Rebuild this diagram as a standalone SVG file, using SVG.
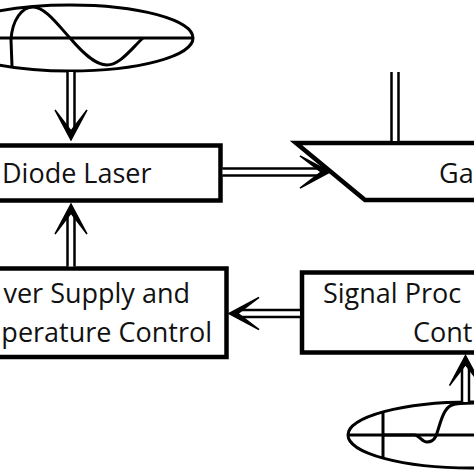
<svg xmlns="http://www.w3.org/2000/svg" width="474" height="474" viewBox="0 0 474 474">
  <style>
    .box { fill: #ffffff; stroke: #000000; stroke-width: 4.5; }
    .ell { fill: #ffffff; stroke: #000000; stroke-width: 3; }
    .ln { fill: none; stroke: #000000; stroke-width: 3; stroke-linecap: butt; stroke-linejoin: round; }
    .lbl { font-family: "Open Sans", "Noto Sans", "Liberation Sans", sans-serif; font-size: 27px; fill: #111111; }
    .dlo { fill: none; stroke: #000000; stroke-width: 9.5; }
    .dli { fill: none; stroke: #ffffff; stroke-width: 4.5; }
    .ah { fill: #000000; stroke: #000000; stroke-width: 1.5; stroke-linejoin: miter; }
  </style>
  <defs>
    <path id="ah" class="ah" d="M0,0 L-30,-16 L-9,0 L-30,16 Z"/>
  </defs>
  <rect x="0" y="0" width="474" height="474" fill="#ffffff"/>

  <g id="signal-top">
    <ellipse class="ell" cx="70" cy="38" rx="123" ry="33"/>
    <line class="ln" x1="-5" y1="38" x2="193" y2="38"/>
    <path class="ln" d="M12,66 L11,40 C12,20 22,7 33,7 C45,7 58,25 70,38 C82,52 95,65 107,65 C120,65 132,48 143,38"/>
  </g>

  <g id="diode-laser">
    <rect class="box" x="-10" y="145.5" width="230.5" height="55"/>
    <text class="lbl" x="2" y="183">Diode Laser</text>
  </g>

  <g id="gas-cell">
    <polygon points="296,143 480,143 480,200 365,200" fill="#ffffff"/>
    <path class="box" fill="none" d="M480,143 L296,143 L365,200 L480,200"/>
    <text class="lbl" x="439" y="183">Ga</text>
  </g>

  <g id="power-supply">
    <rect class="box" x="-10" y="268.5" width="236.5" height="88.5"/>
    <text class="lbl" x="190" y="303" text-anchor="end">ver Supply and</text>
    <text class="lbl" x="212" y="342" text-anchor="end">perature Control</text>
  </g>

  <g id="signal-processing">
    <rect class="box" x="302" y="272.5" width="200" height="80"/>
    <text class="lbl" x="323" y="303">Signal Proc</text>
    <text class="lbl" x="413" y="342">Cont</text>
  </g>

  <g id="signal-bottom">
    <ellipse class="ell" cx="471" cy="435" rx="123" ry="33"/>
    <line class="ln" x1="348" y1="435" x2="480" y2="435"/>
    <line class="ln" x1="383" y1="411" x2="383" y2="459"/>
    <path class="ln" d="M383,435 L415,435 C420,436 422,442 427,442 C432,442 434,440 436,436 C440,425 443,408 452,405 C458,403 466,403 476,403"/>
  </g>

  <g id="connectors">
    <!-- top signal to diode laser -->
    <path class="dlo" d="M71,72 L71,131"/>
    <path class="dli" d="M71,72 L71,131"/>
    <use href="#ah" transform="translate(71,140) rotate(90)"/>
    <!-- power supply to diode laser -->
    <path class="dlo" d="M71,266.5 L71,213"/>
    <path class="dli" d="M71,266.5 L71,213"/>
    <use href="#ah" transform="translate(71,204) rotate(-90)"/>
    <!-- diode laser to gas cell -->
    <path class="dlo" d="M222.5,172 L321,172"/>
    <path class="dli" d="M222.5,172 L321,172"/>
    <use href="#ah" transform="translate(330,172)"/>
    <!-- gas cell output up -->
    <path class="dlo" d="M395,72 L395,141"/>
    <path class="dli" d="M395,72 L395,141"/>
    <!-- signal processing to power supply -->
    <path class="dlo" d="M300,313.5 L238,313.5"/>
    <path class="dli" d="M300,313.5 L238,313.5"/>
    <use href="#ah" transform="translate(229,313.5) rotate(180)"/>
    <!-- bottom signal to signal processing -->
    <path class="dlo" d="M465.5,402 L465.5,364"/>
    <path class="dli" d="M465.5,402 L465.5,364"/>
    <use href="#ah" transform="translate(465.5,355.5) rotate(-90)"/>
  </g>
</svg>
